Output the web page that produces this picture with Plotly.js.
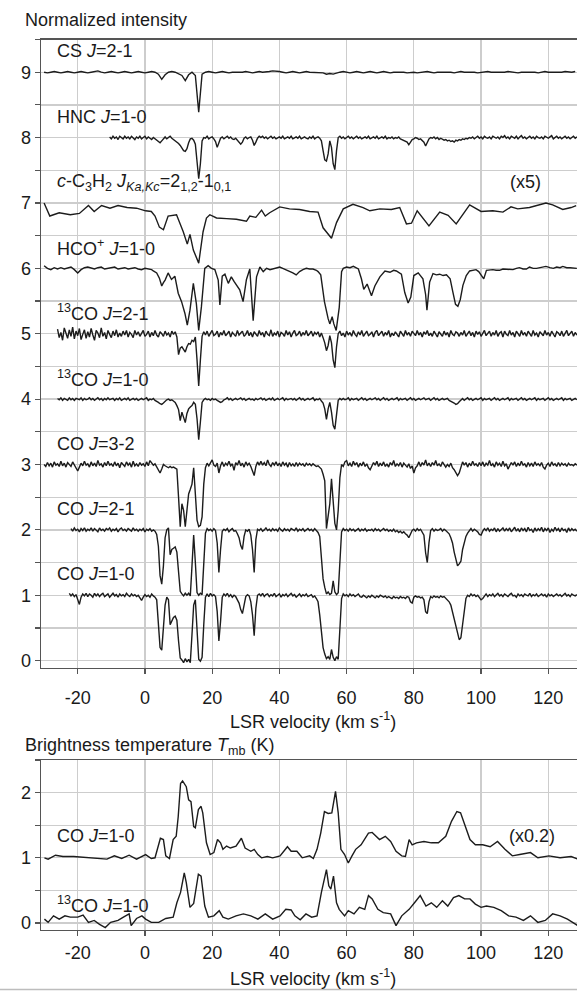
<!DOCTYPE html>
<html>
<head>
<meta charset="utf-8">
<script src="https://cdn.plot.ly/plotly-3.0.1.min.js"></script>
<style>html,body{margin:0;padding:0;background:#fff}#chart{width:577px;height:992px}</style>
</head>
<body>
<div id="chart"></div>
<script>
// ---------- DATA (normalized intensity, each spectrum's baseline = 1) ----------
// Uniformly sampled spectra: start velocity (km/s), channel width, values
const co10Start = -22.5, co10Step = 0.5;
const co10 = [
1.03,0.99,1.02,0.98,1.01,0.92,0.86,0.97,1.02,0.99,
1.03,0.98,1.02,1.00,0.97,1.03,0.99,1.02,0.98,1.01,
1.03,0.98,1.00,1.02,0.97,1.01,1.03,0.99,1.01,0.97,
1.02,0.99,1.01,0.98,1.03,1.00,0.98,1.02,0.99,1.01,
0.98,1.00,0.96,0.92,0.97,1.01,0.98,1.00,0.97,1.02,
0.99,0.97,0.93,0.60,0.20,0.16,0.45,0.85,0.97,0.93,
0.55,0.60,0.66,0.68,0.62,0.30,0.04,0.01,-0.03,0.03,
-0.02,0.02,-0.03,0.40,0.85,0.93,0.35,0.02,-0.01,0.05,
0.55,0.97,1.02,0.98,1.03,0.99,1.01,0.98,0.75,0.30,
0.60,0.97,1.02,0.99,1.03,0.98,1.01,0.97,1.00,0.98,
0.93,0.88,0.78,0.72,0.85,0.98,1.01,0.99,0.90,0.70,
0.38,0.80,1.00,1.02,0.99,1.03,0.98,1.01,1.02,0.98,
1.01,0.99,1.03,0.98,1.00,1.02,0.97,1.01,0.99,1.02,
0.98,1.00,1.03,0.99,1.01,0.97,1.00,1.02,0.98,1.01,
0.99,1.02,0.98,1.00,1.01,0.97,0.99,0.95,0.90,0.70,
0.40,0.20,0.10,0.03,0.06,0.02,0.17,0.05,0.00,0.06,
0.02,0.55,0.95,1.02,0.99,1.01,0.98,1.02,0.99,1.01,
0.98,1.00,1.02,0.98,0.97,1.00,0.98,0.96,0.99,0.97,
1.00,0.98,0.96,0.99,0.97,1.00,0.98,0.97,0.99,0.96,
0.98,0.97,0.95,0.98,0.96,0.97,0.95,0.98,0.96,0.97,
0.95,0.98,0.97,0.90,0.88,0.97,0.99,0.97,0.98,0.96,
0.97,0.93,0.75,0.72,0.90,0.98,0.96,0.99,0.97,0.98,
0.96,0.99,0.97,0.98,0.95,0.93,0.90,0.85,0.75,0.65,
0.55,0.42,0.32,0.35,0.55,0.80,0.95,1.00,0.98,1.02,
0.99,1.01,0.98,1.00,0.97,0.93,0.95,0.99,1.02,0.98,
1.01,0.99,1.02,0.98,1.00,1.03,0.99,1.01,0.98,1.02,
1.00,0.98,1.01,1.03,0.99,1.00,0.97,1.02,0.99,1.01,
0.98,1.02,1.00,0.99,1.03,0.98,1.01,0.99,1.02,0.98,
1.00,1.02,0.99,1.01,0.97,1.02,0.99,1.01,0.98,1.00,
1.02,0.99,1.01,0.98,1.00,1.03,0.99,1.01,0.98,1.02,
1.00,0.99,1.01];

const co21Start = -22, co21Step = 0.5;
const co21 = [
1.02,0.98,1.03,0.99,1.01,0.97,1.02,0.99,1.03,0.98,
1.01,0.99,1.03,0.98,1.02,1.00,0.97,1.03,0.99,1.01,
0.98,1.02,1.00,1.03,0.98,1.01,0.99,1.02,0.97,1.01,
1.03,0.99,1.01,0.98,1.02,1.00,0.98,1.03,0.99,1.01,
0.98,1.01,0.99,1.02,0.97,1.01,0.99,1.02,0.98,1.00,
0.98,0.93,0.75,0.30,0.17,0.45,0.88,1.00,1.03,0.62,
0.70,0.72,0.74,0.66,0.40,0.06,0.02,-0.01,0.03,0.00,
0.03,-0.01,0.45,0.92,0.50,0.04,0.00,0.03,0.01,0.50,
0.95,1.02,0.99,1.01,0.98,1.02,0.99,0.80,0.35,0.70,
0.98,1.01,0.99,1.02,0.97,1.00,1.02,0.98,0.99,0.94,
0.88,0.76,0.70,0.90,1.00,0.98,1.01,0.92,0.70,0.35,
0.85,1.01,0.99,1.02,0.98,1.00,1.03,0.99,1.01,0.98,
1.02,0.99,1.01,0.98,1.03,1.00,0.98,1.02,0.99,1.01,
0.98,1.02,1.00,0.99,1.03,0.98,1.01,0.99,1.02,0.98,
1.00,1.02,0.99,1.01,0.98,1.02,0.99,0.96,0.90,0.60,
0.25,0.12,0.02,0.05,0.01,0.03,0.22,0.05,0.01,0.04,
0.50,0.97,1.02,0.99,1.01,0.98,1.02,0.99,1.01,0.98,
1.00,1.02,0.98,1.01,0.99,1.02,0.98,1.00,0.99,1.01,
0.98,1.02,0.99,1.01,0.98,1.00,1.02,0.99,1.01,0.98,
1.00,0.98,1.01,0.97,0.99,0.96,0.98,0.95,0.97,0.94,
0.92,0.88,0.95,0.99,1.01,0.98,1.02,0.99,1.01,0.97,
0.92,0.65,0.50,0.80,0.99,1.02,0.98,1.01,0.99,1.00,
1.02,0.98,1.01,0.99,0.97,0.94,0.88,0.80,0.66,0.55,
0.45,0.48,0.52,0.70,0.80,0.90,0.95,0.99,1.02,0.98,
1.01,0.99,0.97,0.93,0.92,0.98,1.02,0.99,1.03,0.98,
1.01,0.99,1.03,0.97,1.02,0.98,1.01,1.03,0.98,1.02,
0.99,1.03,0.97,1.01,1.04,0.98,1.02,0.97,1.03,0.99,
1.02,0.97,1.04,0.99,1.01,0.96,1.03,0.98,1.02,0.99,
1.04,0.97,1.02,0.99,1.03,0.96,1.01,0.98,1.04,0.99,
1.02,0.97,1.03,0.99,1.01,0.96,1.03,0.98,1.02,0.99,
1.01,0.98];

const co32Start = -30, co32Step = 0.5;
const co32 = [
1.00,0.97,1.03,0.98,1.02,0.96,1.04,0.99,1.01,0.97,
1.05,0.98,1.02,0.96,1.03,1.00,0.97,1.04,0.99,0.95,
0.90,0.96,1.02,0.98,1.05,0.99,1.01,0.96,1.04,0.98,
1.02,0.97,1.06,0.99,1.01,0.96,1.03,0.98,1.05,0.99,
1.01,0.97,1.04,0.98,1.02,0.95,1.03,1.00,0.97,1.04,
0.99,1.02,0.96,1.05,0.98,1.01,0.97,1.03,0.99,1.01,
0.97,1.04,0.98,1.06,1.02,0.99,1.01,0.97,0.92,0.87,
0.93,1.00,0.98,0.96,0.95,0.97,0.95,0.96,0.94,0.93,
0.50,0.05,0.40,0.30,0.05,0.30,0.55,0.62,0.70,0.95,
0.50,0.15,0.05,0.07,0.20,0.70,0.95,1.02,0.98,1.03,
1.07,0.99,0.97,1.02,0.87,0.98,1.04,0.97,1.02,0.99,
1.05,0.98,1.01,0.91,1.03,0.99,1.06,0.98,1.02,0.96,
1.04,0.99,1.02,0.97,0.88,0.83,0.97,1.04,0.99,1.05,
0.99,1.03,0.98,1.07,1.00,0.97,1.03,0.99,1.04,0.98,
1.02,0.97,1.04,0.99,1.02,0.96,1.03,0.98,1.01,0.97,
1.03,0.98,1.02,0.99,1.01,0.97,1.02,0.99,1.01,0.98,
1.01,0.99,0.97,0.98,0.96,0.93,0.85,0.75,0.02,0.20,
0.40,0.78,0.40,0.10,0.00,0.30,0.80,1.00,0.97,1.04,
1.06,0.98,1.02,0.97,1.05,0.99,1.03,0.96,1.02,0.98,
1.04,0.97,1.01,0.95,0.92,0.98,1.03,0.99,1.05,0.97,
1.02,0.98,1.04,0.97,1.01,0.96,1.03,0.99,1.06,0.97,
1.01,0.98,1.03,0.96,1.02,0.99,0.96,1.01,0.94,0.98,
0.87,0.95,0.98,1.04,0.97,1.03,0.99,1.07,0.98,1.02,
0.97,1.03,0.99,1.06,0.98,1.01,0.97,1.04,0.99,0.96,
1.00,0.97,1.02,0.95,0.92,0.88,0.83,0.87,0.95,1.04,
0.99,1.03,0.96,1.02,0.98,1.05,0.99,1.01,0.97,1.03,
0.98,1.04,0.97,1.02,0.99,1.06,0.98,1.01,0.96,1.04,
0.99,1.02,0.97,1.05,0.98,1.01,0.93,0.97,1.03,0.99,
1.04,0.97,1.02,0.98,1.05,0.99,1.01,0.96,1.03,0.98,
1.02,0.97,1.04,0.99,1.01,0.98,1.03,0.96,0.93,0.99,
1.02,0.97,1.04,0.99,1.01,0.97,1.03,0.98,1.02,0.99,
1.01,0.97,1.02,0.99,1.00,0.98,1.01,0.99];

const c13o10Start = -26, c13o10Step = 0.5;
const c13o10 = [
1.01,0.99,1.02,0.98,1.01,1.00,0.98,1.02,0.99,1.01,
0.98,1.01,1.00,0.99,1.02,0.98,1.01,0.99,1.00,1.02,
0.99,1.01,0.98,1.00,1.02,0.99,1.01,0.98,1.01,0.99,
1.02,0.99,1.00,1.01,0.98,1.01,0.99,1.02,0.98,1.00,
1.01,0.99,1.02,0.98,1.00,1.01,0.99,1.01,0.98,1.00,
1.01,0.99,1.00,1.02,0.98,1.00,0.99,1.01,0.98,0.97,
0.95,0.93,0.92,0.94,0.97,0.99,1.00,0.98,0.99,0.97,
0.95,0.90,0.84,0.67,0.80,0.72,0.64,0.78,0.85,0.88,
0.90,0.95,0.92,0.70,0.38,0.65,0.95,0.99,1.01,0.99,
1.00,0.98,1.01,0.99,1.00,0.98,0.97,0.95,0.96,0.99,
1.00,1.02,0.99,1.01,0.98,1.00,1.01,0.99,1.00,1.02,
0.99,1.01,0.98,1.00,1.01,0.99,1.00,0.98,1.01,0.99,
1.00,1.02,0.99,1.01,0.98,1.00,1.01,0.99,1.02,0.98,
1.00,1.01,0.99,1.00,1.02,0.98,1.01,0.99,1.00,1.01,
0.99,1.01,0.98,1.00,1.02,0.99,1.01,0.98,1.00,1.01,
0.99,1.00,1.02,0.98,1.00,0.99,1.01,0.97,0.94,0.85,
0.69,0.85,0.95,0.80,0.60,0.54,0.80,0.98,1.01,0.99,
1.01,0.99,1.00,1.02,0.98,1.01,0.99,1.00,1.01,0.98,
1.00,1.02,0.99,1.01,0.98,1.00,1.01,0.99,1.00,1.02,
0.99,1.01,0.98,1.00,1.02,0.99,1.01,0.98,1.00,1.01,
0.99,1.00,1.02,0.98,1.01,0.99,1.00,1.01,0.98,1.00,
1.02,0.99,1.01,0.98,1.00,1.01,0.99,1.00,1.02,0.99,
1.00,1.01,0.98,1.00,1.02,0.99,1.01,0.98,1.00,1.01,
0.99,1.00,1.01,0.98,0.97,0.95,0.94,0.92,0.93,0.96,
0.99,1.01,0.98,1.00,1.02,0.99,1.01,0.98,1.00,1.01,
0.99,1.00,1.02,0.98,1.01,0.99,1.00,1.01,0.98,1.00,
1.02,0.99,1.01,0.98,1.00,1.01,0.99,1.00,1.02,0.98,
1.01,0.99,1.00,1.01,0.98,1.00,1.02,0.99,1.01,0.98,
1.00,1.01,0.99,1.00,1.02,0.98,1.01,0.99,1.00,1.01,
0.98,1.00,1.02,0.99,1.01,0.98,1.00,1.01,0.99,1.00,
1.02,0.98,1.01,0.99,1.00,1.01,0.98,1.00,1.01,0.99];

const c13o21Start = -26, c13o21Step = 0.5;
const c13o21 = [
1.07,0.94,1.02,0.90,1.09,1.01,0.93,1.06,0.96,1.10,
0.92,1.04,0.97,1.08,0.91,0.99,1.06,0.93,1.03,0.95,
1.08,0.98,0.90,1.05,1.01,0.94,1.09,0.96,1.02,0.92,
1.05,0.99,0.94,1.04,0.97,1.06,0.95,1.01,0.96,1.04,
0.98,1.05,0.95,1.02,0.99,0.94,1.05,0.98,1.03,0.96,
1.01,1.05,0.96,0.99,1.04,0.95,1.02,0.97,1.05,0.98,
0.95,1.03,1.00,0.96,1.04,0.98,1.01,0.95,1.04,0.99,
1.03,0.95,0.68,0.78,0.80,0.76,0.72,0.80,0.85,0.84,
0.90,0.88,0.95,0.60,0.20,0.60,0.96,1.03,0.98,1.04,
0.96,1.01,1.05,0.97,0.99,1.04,0.95,1.02,0.98,1.05,
0.97,1.00,1.04,0.95,1.02,0.99,0.96,1.05,0.98,1.01,
1.04,0.96,0.99,1.05,0.97,1.02,0.95,1.03,1.00,0.96,
1.05,0.98,1.02,0.95,1.04,0.99,0.97,1.06,0.96,1.01,
0.98,1.04,0.95,1.02,1.00,0.96,1.05,0.98,1.03,0.95,
1.01,1.05,0.97,0.99,1.04,0.96,1.02,0.98,1.05,0.97,
1.00,1.04,0.96,1.02,0.99,1.03,0.95,1.01,0.94,0.86,
0.74,0.82,0.97,0.86,0.60,0.48,0.80,1.00,1.04,0.97,
1.01,0.95,1.04,0.98,1.02,0.96,1.05,0.99,0.96,1.03,
0.98,1.05,0.96,1.01,1.04,0.97,0.99,1.03,0.95,1.02,
1.05,0.97,1.00,1.04,0.96,1.02,0.98,1.05,0.95,1.01,
0.97,1.03,0.99,0.95,1.04,1.00,0.96,1.05,0.98,1.02,
0.96,1.04,1.00,0.97,1.05,0.98,1.02,0.95,1.03,0.99,
1.05,0.97,1.01,0.96,1.04,0.99,0.95,1.03,1.00,0.96,
1.04,0.98,1.02,0.95,1.05,0.99,0.97,1.03,1.01,0.96,
1.02,0.98,1.05,0.96,1.00,1.04,0.97,1.02,0.95,1.04,
0.99,1.03,0.96,1.01,1.05,0.97,1.00,1.04,0.96,1.02,
0.98,1.05,0.96,1.01,1.03,0.95,1.04,0.99,0.97,1.05,
0.98,1.02,0.95,1.04,1.00,0.96,1.05,0.98,1.02,0.96,
1.04,0.99,0.96,1.05,0.98,1.01,0.95,1.03,1.00,0.97,
1.05,0.98,1.02,0.96,1.04,0.99,0.95,1.03,1.01,0.97,
1.04,0.96,1.01,1.05,0.97,1.00,1.04,0.96,1.02,0.98];

const hncStart = -10.5, hncStep = 0.5;
const hnc = [
1.01,0.98,1.02,0.99,1.01,0.97,1.02,1.00,0.98,1.02,
0.99,1.01,0.98,1.02,1.00,0.97,1.01,0.99,1.02,0.98,
1.00,1.02,0.98,1.01,0.99,0.97,1.00,0.98,0.96,0.93,
0.92,0.95,0.99,1.01,0.98,1.00,1.02,0.99,0.97,0.96,
0.94,0.91,0.88,0.84,0.80,0.79,0.83,0.92,0.98,0.99,
0.96,0.90,0.60,0.37,0.60,0.95,1.00,0.99,1.02,0.98,
1.00,1.01,0.98,0.94,0.85,0.92,0.99,1.01,0.98,1.00,
1.02,0.99,1.01,0.98,0.97,0.99,0.96,0.92,0.90,0.93,
0.99,1.01,0.98,1.00,1.01,0.96,0.88,0.93,0.99,1.02,
1.00,1.02,0.99,1.01,0.98,1.00,1.02,0.99,1.01,0.98,
1.00,1.01,0.99,1.02,0.98,1.00,1.01,0.99,1.02,0.98,
1.00,1.01,0.99,1.02,0.98,1.00,1.01,0.99,0.98,1.01,
0.99,1.02,0.98,1.00,1.01,0.99,0.95,0.80,0.66,0.64,
0.75,0.95,0.85,0.60,0.51,0.80,1.00,1.02,0.99,1.01,
0.98,1.00,1.02,0.99,1.01,0.98,1.00,1.02,0.99,1.01,
0.98,1.00,1.01,0.99,1.02,0.98,1.00,1.01,0.99,1.02,
0.98,1.00,1.01,0.99,1.02,0.98,1.00,0.99,1.01,0.98,
1.00,0.99,1.01,0.98,0.97,0.96,0.95,0.93,0.89,0.94,
0.97,0.98,1.00,0.99,0.97,0.98,0.95,0.93,0.87,0.93,
0.98,1.00,0.99,1.01,0.98,1.00,0.97,0.99,0.98,0.96,
0.97,0.95,0.96,0.94,0.95,0.93,0.96,0.95,0.97,0.96,
0.98,0.97,0.99,0.98,1.00,0.99,1.01,0.98,1.00,1.02,
0.99,1.01,0.98,1.02,1.00,0.99,1.01,0.98,1.02,1.00,
0.99,1.01,0.98,1.02,1.00,1.03,0.99,1.01,0.98,1.02,
1.00,0.99,1.02,0.98,1.01,1.03,0.99,1.01,0.98,1.00,
1.02,0.99,1.01,0.98,1.02,1.00,0.99,1.01,0.98,1.02,
1.00,0.99,1.01,1.03,0.98,1.00,1.02,0.99,1.01,0.98,
1.00,1.02,0.99,1.01,0.98,1.00,1.02,0.99,1.01];

const csStart = -30, csStep = 1;
const cs = [
1.00,0.99,1.00,1.01,1.00,0.99,1.00,1.01,1.00,0.99,
1.00,1.01,1.00,0.99,1.00,1.01,1.02,1.00,0.99,1.00,
1.01,1.00,0.99,1.00,1.01,1.00,0.99,1.00,1.01,1.00,
0.99,1.00,1.01,1.00,0.97,0.89,0.96,1.00,1.01,1.00,
0.98,0.95,0.87,0.96,1.00,0.95,0.39,0.97,1.00,1.01,
1.00,0.99,1.00,1.01,1.00,0.99,1.00,1.00,0.99,1.00,
1.01,1.00,0.99,1.00,1.01,1.00,1.00,1.01,1.02,1.02,
1.01,1.00,0.99,1.00,1.01,1.00,0.99,1.00,1.01,1.00,
1.00,0.99,1.00,0.99,0.97,0.98,0.97,0.99,1.00,1.01,
1.00,0.99,1.00,1.01,1.00,0.99,1.00,1.01,1.00,0.99,
1.00,1.01,1.00,0.99,1.00,1.00,1.01,1.00,0.99,1.00,
1.00,0.99,1.00,1.00,1.01,1.00,0.99,1.00,1.00,1.01,
1.00,1.00,0.99,1.00,1.01,1.00,1.00,1.01,1.00,0.99,
1.00,1.00,1.01,1.00,1.00,0.99,1.00,1.00,1.01,1.00,
1.00,0.99,1.00,1.00,1.01,1.00,1.00,0.99,1.00,1.01,
1.00,1.00,1.00,0.99,1.00,1.01,1.00,1.00,1.01];

// Irregularly sampled spectra: velocity + value arrays
const hcoVel = [
-30,-29,-28,-27,-26,-25,-24,-23,-22,-21,
-20,-19,-18,-17,-16,-15,-14,-13,-12,-11,
-10,-9,-8,-7,-6,-5,-4,-3,-2,-1,
0,1,2,2.5,3.5,4.3,5,5.5,6,6.9,
7.9,8.9,9.9,10.9,11.9,12.6,13.4,14.4,15.3,16,
16.8,17.8,18.8,19.8,20.8,21.8,22.3,23,23.8,24.8,
25.7,26.5,27.2,28.2,29.2,30.2,31.2,32.2,33.2,34.2,
35.2,36.2,37.2,38.1,39.1,40.1,41,42,43,44,
45,46,47,48,49,50,51,51.5,52.3,53.4,
54.5,55,55.7,56.2,56.9,57.8,58.5,59,60,61,
62,62.5,63.5,64.4,65.1,66.1,67.4,68.4,69.9,71.4,
72.9,74,74.8,76.3,77.3,78.3,79.1,80,81.3,82.7,
83.5,83.9,84.7,85.7,86.7,87.7,88.7,89.7,90.8,91.6,
92.4,93.1,93.8,94.6,95.6,96.6,97.5,98.5,99.3,100,
100.8,101.6,102.5,103.5,104.5,105.5,106.5,107.5,108.5,109.5,
110.5,111.4,112.5,113.5,114.4,115.5,116.5,117.5,118.5,119.3,
120.5,121.5,122.5,123.5,124.3,125.5,126.5,127.5,128.5];
const hco = [
1.04,1.00,0.98,1.01,0.99,1.01,0.99,1.00,1.02,0.98,
0.93,0.98,1.01,1.02,1.00,0.99,1.01,1.02,0.99,1.00,
1.01,1.02,0.99,1.00,1.01,0.99,1.00,1.01,0.99,0.98,
1.00,0.99,0.98,0.96,0.93,0.85,0.73,0.78,0.82,0.93,
0.83,0.88,0.62,0.49,0.31,0.13,0.36,0.77,0.46,0.05,
0.41,1.00,1.04,1.00,0.98,0.82,0.44,0.88,0.91,0.77,
0.87,0.80,0.74,0.67,0.49,0.83,0.99,0.20,0.87,1.02,
0.95,1.00,0.98,0.99,1.01,1.02,1.00,0.98,0.96,0.93,
0.90,0.95,0.98,1.00,0.99,0.99,0.97,0.95,0.90,0.49,
0.23,0.15,0.26,0.15,0.05,0.40,0.95,1.00,1.02,1.01,
1.03,1.02,0.99,0.84,0.68,0.76,0.58,0.73,0.87,0.96,
0.94,0.97,0.96,0.91,0.63,0.47,0.56,0.89,0.93,0.84,
0.60,0.36,0.79,0.92,0.90,0.91,0.89,0.90,0.84,0.64,
0.45,0.42,0.52,0.74,0.89,0.96,0.97,0.98,0.95,0.89,
0.84,0.97,0.98,0.98,0.97,0.97,0.99,0.99,0.98,0.98,
1.00,1.01,0.99,0.99,1.02,1.00,1.00,1.01,1.02,1.03,
1.01,1.00,1.02,1.01,1.03,1.01,1.01,1.00,1.00];

// c-C3H2 (already multiplied by 5)
const c3h2Vel = [
-30,-28.3,-25.5,-22.2,-19.5,-16.8,-15.1,-12.9,-10.4,-8,
-5.3,-2.5,0.2,1.9,3,4.3,5.5,6.9,9.4,11.4,
12.6,13.4,14.4,16,17.3,18.3,19.3,21.3,24.3,27.2,
30.2,31.2,33,34.7,35.8,37.1,40.1,43,46,49,
51.5,53,55.5,57,59,61.9,64.9,66.9,69.9,73.3,
75.8,77.8,79.3,81,84.5,87.7,90.2,92.6,96.6,100,
103.5,106.5,108.9,110.9,114.4,119.3,121.3,124.3,126.8,128.3];
const c3h2 = [
1.00,0.80,0.85,0.82,0.84,0.96,0.87,0.96,0.92,0.96,
0.93,0.92,0.88,0.87,0.80,0.63,0.59,0.80,0.82,0.56,
0.37,0.52,0.28,0.08,0.56,0.77,0.82,0.77,0.76,0.75,
0.72,0.80,0.78,0.89,0.80,0.85,0.94,0.91,0.90,0.87,
0.86,0.62,0.46,0.70,0.91,0.98,0.93,0.88,0.91,0.90,
0.93,0.68,0.69,0.88,0.65,0.86,0.81,0.68,0.97,0.87,
0.88,0.86,0.94,0.91,0.93,1.00,0.97,0.90,0.93,0.96];

// Brightness temperature panel: CO J=1-0 (x0.2) and 13CO J=1-0, K
const tCoVel = [
-29.9,-28.8,-26.6,-24.4,-21.2,-17.9,-14.6,-11.3,-9.1,-6.9,
-4.7,-2.5,0.2,1.9,3,4.6,5.5,6.2,7.3,8.4,
9.3,9.9,10.6,11.2,12.3,13,13.7,14.5,15,15.9,
16.7,17.2,18.3,19.4,20.5,21.6,22.5,23.2,24.3,25.4,
27.1,28.7,29.8,31.5,32.5,33.6,34.7,36.4,38,40.2,
42.4,43.5,45.2,46.8,49,50.1,51.2,52.3,53.4,54.5,
55.6,56.7,57.5,58.3,59.4,60.5,61.6,62.7,64.3,66.5,
67.6,68.7,69.8,71.5,73.1,74.7,76.4,77.5,78.6,79.5,
80.8,83,85.2,87.3,89.5,91.2,92.8,93.9,95,96.7,
98.3,100.5,102.7,104.9,107.1,109.3,111.5,114.7,116.9,120.2,
123.5,126.8,128.8];
const tCo = [
0.00,-0.02,0.04,0.02,0.02,0.01,0.00,-0.02,0.03,-0.01,
0.04,-0.02,0.05,-0.01,0.00,0.30,0.28,0.03,-0.01,0.28,
0.33,0.63,1.14,1.18,1.09,0.89,0.86,0.48,0.46,0.74,
0.79,0.69,0.23,0.05,0.08,0.28,0.23,0.13,0.18,0.15,
0.18,0.30,0.15,0.10,0.13,0.05,0.00,0.02,0.00,0.03,
0.17,0.10,0.10,0.00,0.03,-0.01,0.13,0.38,0.71,0.68,
0.69,1.02,0.69,0.13,0.05,-0.08,0.03,0.13,0.20,0.38,
0.39,0.33,0.28,0.33,0.25,0.10,0.03,0.02,0.28,0.20,
0.23,0.25,0.23,0.23,0.33,0.56,0.71,0.69,0.53,0.28,
0.20,0.20,0.17,0.25,0.13,0.03,0.05,0.08,0.00,0.03,
0.00,0.02,-0.02];

const t13coVel = [
-29.9,-28.8,-27.2,-25.5,-23.8,-22.2,-20,-18.4,-16.8,-15.1,
-13.5,-11.8,-10.2,-8,-6.4,-4.7,-4.1,-2.5,-0.9,0.2,
1.9,4.1,6.2,8.4,9.5,10.6,11.7,12.3,13.4,14.5,
15.9,16.7,17.8,18.9,20.5,22.1,23.2,24.8,27.1,29.3,
31.5,33.6,35.8,38,40.2,41.9,43.5,44.6,46.2,47.9,
49.6,51.2,52.5,54,54.7,55.3,56.1,57,57.8,59.4,
60.5,62.2,63.8,65.4,66.5,67.6,69.3,70.9,73.1,74.7,
76.4,77.5,78.6,80.2,81.9,83.6,85.2,86.8,88.5,90.1,
91.8,93.4,95.1,96.7,98.3,100,101.6,103.8,106,108.2,
110.4,112.6,114.7,116.9,119.1,121.3,123.5,125.7,127.3,128.8];
const t13co = [
0.06,0.01,0.11,0.06,0.11,0.09,0.09,0.12,0.01,0.04,
-0.02,-0.07,0.01,0.04,0.09,0.14,-0.04,0.07,0.11,0.06,
0.01,0.01,0.07,0.09,0.31,0.47,0.77,0.62,0.24,0.30,
0.75,0.72,0.26,0.09,0.11,0.19,0.09,0.06,0.11,0.14,
0.11,0.06,0.14,0.06,0.11,0.21,0.20,0.11,0.05,0.14,
0.09,0.11,0.47,0.82,0.57,0.52,0.72,0.31,0.21,0.11,
0.19,0.14,0.24,0.21,0.42,0.37,0.21,0.16,0.14,-0.04,
0.11,0.16,0.21,0.31,0.42,0.26,0.31,0.24,0.34,0.26,
0.39,0.42,0.37,0.37,0.29,0.24,0.26,0.24,0.19,0.11,
0.09,0.04,0.11,0.01,0.04,0.14,0.11,0.06,0.01,-0.04];

const xTickVals = [-20,0,20,40,60,80,100,120];
const xTickText = ['-20','0','20','40','60','80','100','120'];

// ---------- BUILD ----------
function channels(start, step, n){ const v=[]; for(let i=0;i<n;i++) v.push(start+i*step); return v; }
function shift(arr, off){ return arr.map(y=>y+off); }

const lineStyle = {color:'#1c1c1c', width:1.4};
function tr(x, y, off, xa, ya){
  return {type:'scatter', mode:'lines', x:x, y:shift(y, off), line:lineStyle, xaxis:xa, yaxis:ya, hoverinfo:'skip'};
}
const traces = [
  tr(channels(co10Start,co10Step,co10.length), co10, 0, 'x','y'),
  tr(channels(co21Start,co21Step,co21.length), co21, 1, 'x','y'),
  tr(channels(co32Start,co32Step,co32.length), co32, 2, 'x','y'),
  tr(channels(c13o10Start,c13o10Step,c13o10.length), c13o10, 3, 'x','y'),
  tr(channels(c13o21Start,c13o21Step,c13o21.length), c13o21, 4, 'x','y'),
  tr(hcoVel, hco, 5, 'x','y'),
  tr(c3h2Vel, c3h2, 6, 'x','y'),
  tr(channels(hncStart,hncStep,hnc.length), hnc, 7, 'x','y'),
  tr(channels(csStart,csStep,cs.length), cs, 8, 'x','y'),
  tr(tCoVel, tCo, 1, 'x2','y2'),
  tr(t13coVel, t13co, 0, 'x2','y2')
];

const grid='#cdcdcd', axc='#555555';
const xBase = {range:[-30.92,128.54], tickmode:'array', tickvals:xTickVals, ticktext:xTickText,
  ticks:'outside', ticklen:5, tickcolor:axc, tickwidth:1.2, showline:true, mirror:true, linecolor:axc, linewidth:1.4,
  showgrid:true, gridcolor:grid, gridwidth:1.3, zeroline:false,
  tickfont:{size:18, color:'#1a1a1a'}, fixedrange:true};
const yBase = {tickmode:'linear', tick0:0, dtick:1, ticks:'outside', ticklen:5, tickcolor:axc, tickwidth:1.2,
  showline:true, linecolor:axc, linewidth:1.4, showgrid:true, gridcolor:grid, gridwidth:1.3, zeroline:false,
  minor:{tick0:0, dtick:0.5, ticks:'outside', ticklen:5, tickcolor:axc, tickwidth:1.2, showgrid:true, gridcolor:grid, gridwidth:1.3},
  tickfont:{size:18, color:'#1a1a1a'}, fixedrange:true};

const labelX = -26.8;
function lab(text, x, y, yref, xanchor){
  return {text:text, x:x, y:y, xref: yref==='y'?'x':'x2', yref:yref, xanchor:xanchor||'left', yanchor:'middle',
    showarrow:false, font:{size:18, color:'#1a1a1a'}};
}
function paperLab(text, xpx, ypx, xanchor){
  return {text:text, xref:'paper', yref:'paper', x:(xpx-41)/536, y:1-ypx/992, xanchor:xanchor, yanchor:'middle',
    showarrow:false, font:{size:18, color:'#1a1a1a'}};
}
const annotations = [
  lab('CS <i>J</i>=2-1', labelX, 9.32, 'y'),
  lab('HNC <i>J</i>=1-0', labelX, 8.32, 'y'),
  lab('<i>c</i>-C<sub>3</sub>H<sub>2</sub> <i>J</i><sub><i>Ka,Kc</i></sub>=2<sub>1,2</sub>-1<sub>0,1</sub>', labelX, 7.32, 'y'),
  lab('(x5)', 118.4, 7.32, 'y', 'right'),
  lab('HCO<sup>+</sup> <i>J</i>=1-0', labelX, 6.32, 'y'),
  lab('<sup>13</sup>CO <i>J</i>=2-1', labelX, 5.32, 'y'),
  lab('<sup>13</sup>CO <i>J</i>=1-0', labelX, 4.32, 'y'),
  lab('CO <i>J</i>=3-2', labelX, 3.32, 'y'),
  lab('CO <i>J</i>=2-1', labelX, 2.32, 'y'),
  lab('CO <i>J</i>=1-0', labelX, 1.32, 'y'),
  lab('CO <i>J</i>=1-0', labelX, 1.33, 'y2'),
  lab('(x0.2)', 122.7, 1.33, 'y2', 'right'),
  lab('<sup>13</sup>CO <i>J</i>=1-0', labelX, 0.28, 'y2'),
  paperLab('Normalized intensity', 23, 20, 'left'),
  paperLab('Brightness temperature <i>T</i><sub>mb</sub> (K)', 23, 746, 'left'),
  paperLab('LSR velocity (km s<sup>-1</sup>)', 313, 720, 'center'),
  paperLab('LSR velocity (km s<sup>-1</sup>)', 313, 977, 'center')
];

const layout = {
  width:577, height:992, margin:{l:41, r:0, t:0, b:0, pad:0},
  paper_bgcolor:'#ffffff', plot_bgcolor:'#ffffff', showlegend:false,
  font:{family:'"Liberation Sans", Arial, sans-serif', size:18, color:'#1a1a1a'},
  xaxis: Object.assign({}, xBase, {domain:[0,1], anchor:'y', ticklabelstandoff:8}),
  yaxis: Object.assign({}, yBase, {domain:[1-667.5/992, 1-39.5/992], anchor:'x', range:[-0.105,9.5]}),
  xaxis2: Object.assign({}, xBase, {domain:[0,1], anchor:'y2', ticklabelstandoff:1}),
  yaxis2: Object.assign({}, yBase, {domain:[1-930/992, 1-760/992], anchor:'x2', range:[-0.107,2.5]}),
  annotations: annotations,
  shapes:[{type:'line', xref:'paper', yref:'paper', x0:-41/536, x1:1, y0:1-989.5/992, y1:1-989.5/992, line:{color:'#bdbdbd', width:1.5}}]
};

Plotly.newPlot('chart', traces, layout, {staticPlot:true, displayModeBar:false});
</script>
</body>
</html>
